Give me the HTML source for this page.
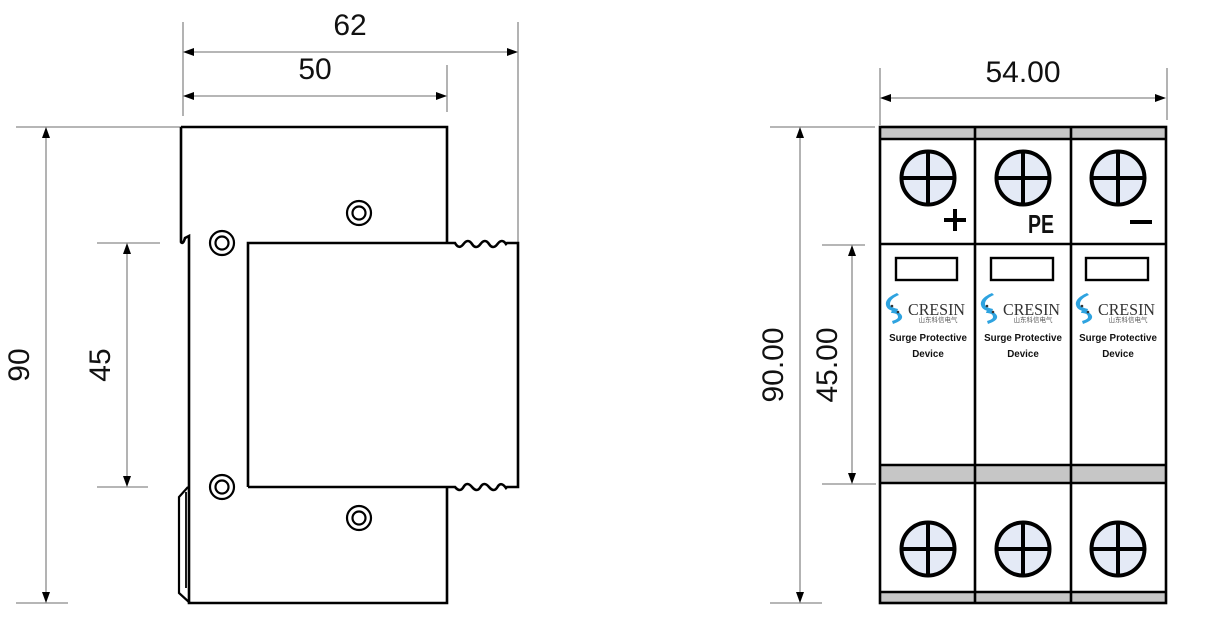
<!DOCTYPE html>
<html>
<head>
<meta charset="utf-8">
<style>
html,body{margin:0;padding:0;background:#fff;}
svg{display:block;}
</style>
</head>
<body>
<svg width="1213" height="638" viewBox="0 0 1213 638" xmlns="http://www.w3.org/2000/svg">
<rect width="1213" height="638" fill="#fff"/>

<!-- ===== LEFT DIMENSIONS ===== -->
<g stroke="#8a8a8a" stroke-width="1.3" fill="none">
  <line x1="183" y1="22" x2="183" y2="116"/>
  <line x1="518" y1="22" x2="518" y2="243"/>
  <line x1="190" y1="52" x2="511" y2="52"/>
  <line x1="447" y1="65" x2="447" y2="112"/>
  <line x1="190" y1="96" x2="440" y2="96"/>
  <line x1="16" y1="127" x2="181" y2="127"/>
  <line x1="16" y1="603" x2="68" y2="603"/>
  <line x1="46" y1="134" x2="46" y2="596"/>
  <line x1="97" y1="243" x2="160" y2="243"/>
  <line x1="97" y1="487" x2="148" y2="487"/>
  <line x1="127" y1="250" x2="127" y2="480"/>
</g>
<g fill="#000">
  <polygon points="183,52 194,48 194,56"/>
  <polygon points="518,52 507,48 507,56"/>
  <polygon points="183,96 194,92 194,100"/>
  <polygon points="447,96 436,92 436,100"/>
  <polygon points="46,127 42,138 50,138"/>
  <polygon points="46,603 42,592 50,592"/>
  <polygon points="127,243 123,254 131,254"/>
  <polygon points="127,487 123,476 131,476"/>
</g>
<g font-family="Liberation Sans, sans-serif" font-size="30" fill="#111" text-anchor="middle">
  <text x="350" y="35">62</text>
  <text x="315" y="79">50</text>
  <text transform="translate(29,365) rotate(-90)" x="0" y="0">90</text>
  <text transform="translate(110,365) rotate(-90)" x="0" y="0">45</text>
</g>

<!-- ===== LEFT DRAWING ===== -->
<g stroke="#000" stroke-width="2.6" fill="none" stroke-linejoin="miter">
  <path d="M181,127 H447 V243"/>
  <path d="M181,127 V242 Q183,245 185,238 L189,236 V603 H447 V487"/>
  <path d="M188,487 L179,497 V593 L190,603" stroke-width="2.2"/>
  <line x1="186" y1="492" x2="186" y2="588" stroke-width="1.8"/>
  <path d="M248,487 V243 H455 Q459,250 463.5,244 T472,244 T480.5,244 T489,244 T497.5,244 T506,244 L507,243 H518 V487 H507 L506,488 Q501,481 497.5,487 T489,487 T480.5,487 T472,487 T463.5,487 T455,487 H248"/>
  <circle cx="359" cy="213" r="12" stroke-width="2.2"/>
  <circle cx="359" cy="213" r="6.5" stroke-width="2.2"/>
  <circle cx="222" cy="243" r="12" stroke-width="2.2"/>
  <circle cx="222" cy="243" r="6.5" stroke-width="2.2"/>
  <circle cx="222" cy="487" r="12" stroke-width="2.2"/>
  <circle cx="222" cy="487" r="6.5" stroke-width="2.2"/>
  <circle cx="359" cy="518" r="12" stroke-width="2.2"/>
  <circle cx="359" cy="518" r="6.5" stroke-width="2.2"/>
</g>

<!-- ===== RIGHT DIMENSIONS ===== -->
<g stroke="#8a8a8a" stroke-width="1.3" fill="none">
  <line x1="880" y1="68" x2="880" y2="125"/>
  <line x1="1167" y1="68" x2="1167" y2="120"/>
  <line x1="887" y1="98" x2="1159" y2="98"/>
  <line x1="770" y1="127" x2="875" y2="127"/>
  <line x1="770" y1="603" x2="822" y2="603"/>
  <line x1="800" y1="134" x2="800" y2="596"/>
  <line x1="822" y1="245" x2="865" y2="245"/>
  <line x1="822" y1="484" x2="876" y2="484"/>
  <line x1="852" y1="252" x2="852" y2="477"/>
</g>
<g fill="#000">
  <polygon points="880,98 891,94 891,102"/>
  <polygon points="1166,98 1155,94 1155,102"/>
  <polygon points="800,127 796,138 804,138"/>
  <polygon points="800,603 796,592 804,592"/>
  <polygon points="852,245 848,256 856,256"/>
  <polygon points="852,484 848,473 856,473"/>
</g>
<g font-family="Liberation Sans, sans-serif" font-size="30" fill="#111" text-anchor="middle">
  <text x="1023" y="82">54.00</text>
  <text transform="translate(783,365) rotate(-90)" x="0" y="0">90.00</text>
  <text transform="translate(837,365) rotate(-90)" x="0" y="0">45.00</text>
</g>

<!-- ===== RIGHT DRAWING ===== -->
<g>
  <rect x="880" y="127" width="286" height="12" fill="#c6c6c6"/>
  <rect x="880" y="465" width="286" height="18" fill="#c6c6c6"/>
  <rect x="880" y="592" width="286" height="11" fill="#c6c6c6"/>
</g>
<g stroke="#000" stroke-width="2.6" fill="none">
  <rect x="880" y="127" width="286" height="476"/>
  <line x1="880" y1="139" x2="1166" y2="139"/>
  <line x1="880" y1="244" x2="1166" y2="244"/>
  <line x1="880" y1="465" x2="1166" y2="465"/>
  <line x1="880" y1="483" x2="1166" y2="483"/>
  <line x1="880" y1="592" x2="1166" y2="592"/>
  <line x1="975" y1="127" x2="975" y2="603"/>
  <line x1="1071" y1="127" x2="1071" y2="603"/>
</g>

<g stroke="#000" stroke-width="4" fill="#e4eaf6">
  <circle cx="928" cy="178" r="26.5"/>
  <circle cx="1023" cy="178" r="26.5"/>
  <circle cx="1118" cy="178" r="26.5"/>
  <circle cx="928" cy="549" r="26.5"/>
  <circle cx="1023" cy="549" r="26.5"/>
  <circle cx="1118" cy="549" r="26.5"/>
</g>
<g stroke="#000" stroke-width="4">
  <line x1="928" y1="152" x2="928" y2="204"/><line x1="902" y1="178" x2="954" y2="178"/>
  <line x1="1023" y1="152" x2="1023" y2="204"/><line x1="997" y1="178" x2="1049" y2="178"/>
  <line x1="1118" y1="152" x2="1118" y2="204"/><line x1="1092" y1="178" x2="1144" y2="178"/>
  <line x1="928" y1="523" x2="928" y2="575"/><line x1="902" y1="549" x2="954" y2="549"/>
  <line x1="1023" y1="523" x2="1023" y2="575"/><line x1="997" y1="549" x2="1049" y2="549"/>
  <line x1="1118" y1="523" x2="1118" y2="575"/><line x1="1092" y1="549" x2="1144" y2="549"/>
  <line x1="944" y1="220" x2="966" y2="220"/>
  <line x1="955" y1="209" x2="955" y2="231"/>
  <line x1="1130" y1="222" x2="1152" y2="222"/>
</g>
<text x="1028" y="233" font-family="Liberation Sans, sans-serif" font-weight="bold" font-size="26" fill="#111" textLength="26" lengthAdjust="spacingAndGlyphs">PE</text>

<g stroke="#000" stroke-width="2.4" fill="#fff">
  <rect x="896" y="258" width="61" height="22"/>
  <rect x="991" y="258" width="62" height="22"/>
  <rect x="1086" y="258" width="62" height="22"/>
</g>

<!-- logos and labels -->
<g>
  <path d="M897,293 C890,296 885,300 886,305 C887,310 892,311 897,312 L898,309 C894,308 890,307 890,304 C890,300 894,297 899,295 Z" fill="#2ea3e0"/>
  <path d="M892,310 C897,311 901,313 902,316 C903,320 898,322 893,324 L892,321 C895,320 898,319 898,317 C898,314 895,313 891,313 Z" fill="#2ea3e0"/>
  <circle cx="892" cy="306" r="1.3" fill="#333"/>
  <circle cx="898" cy="312" r="1.3" fill="#333"/>
  <text x="908" y="315" font-family="Liberation Serif, serif" font-size="16.5" fill="#333" textLength="57" lengthAdjust="spacingAndGlyphs">CRESIN</text>
  <text x="938" y="322" font-family="Liberation Sans, 'Noto Sans CJK SC', sans-serif" font-size="6.5" fill="#555" text-anchor="middle">山东科信电气</text>
  <text x="928" y="341" font-family="Liberation Sans, sans-serif" font-weight="bold" font-size="9.8" fill="#111" text-anchor="middle">Surge Protective</text>
  <text x="928" y="357" font-family="Liberation Sans, sans-serif" font-weight="bold" font-size="9.8" fill="#111" text-anchor="middle">Device</text>
</g>
<g transform="translate(95,0)">
  <path d="M897,293 C890,296 885,300 886,305 C887,310 892,311 897,312 L898,309 C894,308 890,307 890,304 C890,300 894,297 899,295 Z" fill="#2ea3e0"/>
  <path d="M892,310 C897,311 901,313 902,316 C903,320 898,322 893,324 L892,321 C895,320 898,319 898,317 C898,314 895,313 891,313 Z" fill="#2ea3e0"/>
  <circle cx="892" cy="306" r="1.3" fill="#333"/>
  <circle cx="898" cy="312" r="1.3" fill="#333"/>
  <text x="908" y="315" font-family="Liberation Serif, serif" font-size="16.5" fill="#333" textLength="57" lengthAdjust="spacingAndGlyphs">CRESIN</text>
  <text x="938" y="322" font-family="Liberation Sans, 'Noto Sans CJK SC', sans-serif" font-size="6.5" fill="#555" text-anchor="middle">山东科信电气</text>
  <text x="928" y="341" font-family="Liberation Sans, sans-serif" font-weight="bold" font-size="9.8" fill="#111" text-anchor="middle">Surge Protective</text>
  <text x="928" y="357" font-family="Liberation Sans, sans-serif" font-weight="bold" font-size="9.8" fill="#111" text-anchor="middle">Device</text>
</g>
<g transform="translate(190,0)">
  <path d="M897,293 C890,296 885,300 886,305 C887,310 892,311 897,312 L898,309 C894,308 890,307 890,304 C890,300 894,297 899,295 Z" fill="#2ea3e0"/>
  <path d="M892,310 C897,311 901,313 902,316 C903,320 898,322 893,324 L892,321 C895,320 898,319 898,317 C898,314 895,313 891,313 Z" fill="#2ea3e0"/>
  <circle cx="892" cy="306" r="1.3" fill="#333"/>
  <circle cx="898" cy="312" r="1.3" fill="#333"/>
  <text x="908" y="315" font-family="Liberation Serif, serif" font-size="16.5" fill="#333" textLength="57" lengthAdjust="spacingAndGlyphs">CRESIN</text>
  <text x="938" y="322" font-family="Liberation Sans, 'Noto Sans CJK SC', sans-serif" font-size="6.5" fill="#555" text-anchor="middle">山东科信电气</text>
  <text x="928" y="341" font-family="Liberation Sans, sans-serif" font-weight="bold" font-size="9.8" fill="#111" text-anchor="middle">Surge Protective</text>
  <text x="928" y="357" font-family="Liberation Sans, sans-serif" font-weight="bold" font-size="9.8" fill="#111" text-anchor="middle">Device</text>
</g>
</svg>
</body>
</html>
